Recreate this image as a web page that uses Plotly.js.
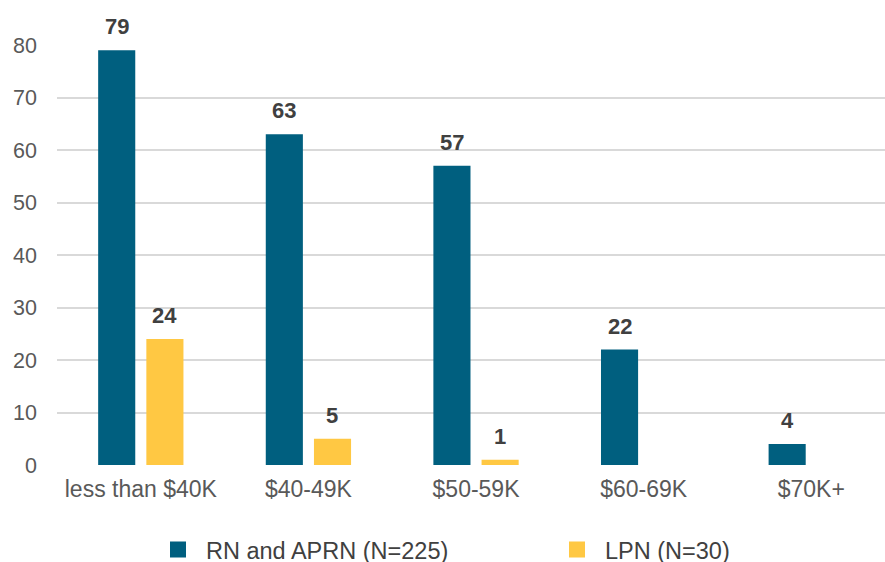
<!DOCTYPE html>
<html>
<head>
<meta charset="utf-8">
<script src="https://cdn.plot.ly/plotly-3.0.1.min.js"></script>
<style>html,body{margin:0;padding:0;background:#fff;}#chart{width:885px;height:562px;}</style>
</head>
<body>
<div id="chart"></div>
<script>
const categories = ["less than $40K", "$40-49K", "$50-59K", "$60-69K", "$70K+"];
const rnValues = [79, 63, 57, 22, 4];
const lpnValues = [24, 5, 1, 0, 0];
const seriesNames = ["RN and APRN (N=225)", "LPN (N=30)"];
const colors = ["#005F7F", "#FFC843"];
const yTicks = [0, 10, 20, 30, 40, 50, 60, 70, 80];

const series = [rnValues, lpnValues];
const legendIds = ["legend", "legend2"];
const traces = [];
series.forEach((vals, i) => {
  traces.push({
    type: "bar", x: categories, y: vals, name: seriesNames[i],
    marker: {color: colors[i]}, showlegend: false, hoverinfo: "x+y"
  });
});
series.forEach((vals, i) => {
  traces.push({
    type: "scatter", mode: "markers", x: [null], y: [null], name: seriesNames[i],
    marker: {symbol: "square", size: 20, color: colors[i]}, showlegend: true,
    legend: legendIds[i]
  });
});

const annotations = [];
series.forEach((vals, i) => {
  vals.forEach((v, j) => {
    if (v > 0) {
      annotations.push({
        x: categories[j], y: v, xref: "x", yref: "y", text: String(v),
        showarrow: false, yanchor: "bottom", xanchor: "center",
        xshift: i === 0 ? -24 : 24, yshift: 9,
        font: {family: "Liberation Sans, Arial, sans-serif", size: 22, color: "#404040", weight: "bold"}
      });
    }
  });
});

const legendBase = {
  orientation: "h", xref: "container", yref: "container", xanchor: "left",
  y: 0.022, yanchor: "middle", font: {size: 23.5, color: "#404040"},
  itemsizing: "trace", itemwidth: 46, bgcolor: "rgba(0,0,0,0)"
};

const layout = {
  width: 885, height: 562,
  margin: {l: 57, r: 0, t: 45, b: 97},
  paper_bgcolor: "#fff", plot_bgcolor: "#fff",
  barmode: "group", bargap: 0.425, bargroupgap: 0.23,
  font: {family: "Liberation Sans, Arial, sans-serif", size: 22, color: "#595959"},
  xaxis: {
    type: "category", range: [-0.5, 4.44], showgrid: false, zeroline: false,
    showline: false, ticks: "", tickfont: {size: 23, color: "#595959"}, ticklabelstandoff: 8
  },
  yaxis: {
    range: [0, 80], tickvals: yTicks, showgrid: true, gridcolor: "#D9D9D9", gridwidth: 2,
    zeroline: false, showline: false, ticks: "", tickfont: {size: 21.5, color: "#595959"},
    ticklabelstandoff: 19
  },
  legend: Object.assign({}, legendBase, {x: 150 / 885}),
  legend2: Object.assign({}, legendBase, {x: 549 / 885}),
  annotations: annotations
};

Plotly.newPlot("chart", traces, layout, {displayModeBar: false, staticPlot: true});
</script>
</body>
</html>
